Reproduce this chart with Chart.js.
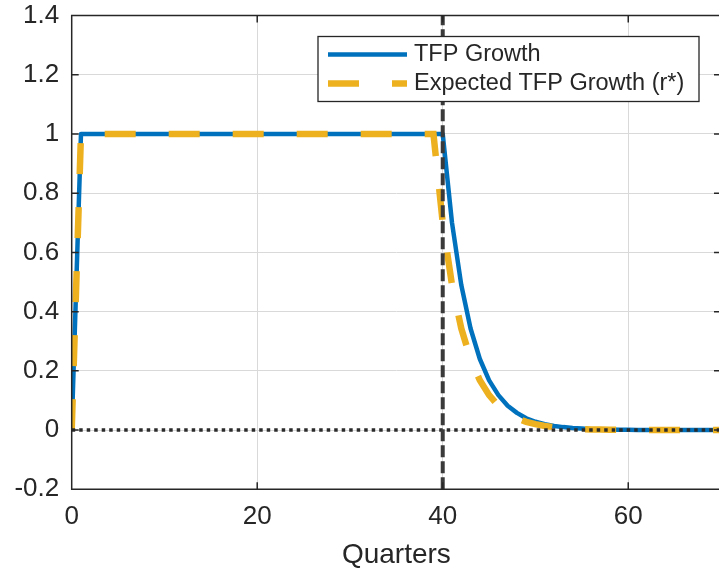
<!DOCTYPE html>
<html>
<head>
<meta charset="utf-8">
<script src="https://cdn.jsdelivr.net/npm/chart.js@4.4.1/dist/chart.umd.min.js"></script>
<style>
    html, body { margin: 0; padding: 0; background: #fff; overflow: hidden; }
    #wrap { width: 721px; height: 572px; }
</style>
</head>
<body>
<div id="wrap"><canvas id="tfpChart"></canvas></div>
<script>
// quarters on the x axis
const quarters = [
    0, 1, 2, 3, 4, 5, 6, 7, 8, 9, 10, 11, 12, 13, 14, 15, 16, 17, 18, 19,
    20, 21, 22, 23, 24, 25, 26, 27, 28, 29, 30, 31, 32, 33, 34, 35, 36, 37, 38, 39,
    40, 41, 42, 43, 44, 45, 46, 47, 48, 49, 50, 51, 52, 53, 54, 55, 56, 57, 58, 59,
    60, 61, 62, 63, 64, 65, 66, 67, 68, 69, 70
];

const tfpGrowth = [
    0, 1, 1, 1, 1, 1, 1, 1, 1, 1, 1, 1, 1, 1, 1, 1, 1, 1, 1, 1,
    1, 1, 1, 1, 1, 1, 1, 1, 1, 1, 1, 1, 1, 1, 1, 1, 1, 1, 1, 1,
    1, 0.70, 0.49, 0.343, 0.24, 0.168, 0.118, 0.082, 0.058, 0.04, 0.028, 0.02, 0.014, 0.01, 0.007, 0.005, 0.003, 0.002, 0.002, 0.001,
    0.001, 0, 0, 0, 0, 0, 0, 0, 0, 0, 0
];

const expectedTfp = [
    0, 1, 1, 1, 1, 1, 1, 1, 1, 1, 1, 1, 1, 1, 1, 1, 1, 1, 1, 1,
    1, 1, 1, 1, 1, 1, 1, 1, 1, 1, 1, 1, 1, 1, 1, 1, 1, 1, 1, 1,
    0.70, 0.49, 0.343, 0.24, 0.168, 0.118, 0.082, 0.058, 0.04, 0.028, 0.02, 0.014, 0.01, 0.007, 0.005, 0.003, 0.002, 0.002, 0.001, 0.001,
    0, 0, 0, 0, 0, 0, 0, 0, 0, 0, 0
];

const xTicks = [0, 20, 40, 60];
const yTicks = [-0.2, 0, 0.2, 0.4, 0.6, 0.8, 1, 1.2, 1.4];
const shockQuarter = 40;
const seriesNames = ["TFP Growth", "Expected TFP Growth (r*)"];

const blue = "#0072BD";
const yellow = "#EDB120";
const axisColor = "#262626";
const fontFamily = "'Liberation Sans', Arial, Helvetica, sans-serif";

function toPoints(ys) {
    return quarters.map(function (q, i) { return { x: q, y: ys[i] }; });
}

// box with inward ticks, like matlab "box on"
const boxPlugin = {
    id: "boxPlugin",
    afterDatasetsDraw: function (chart) {
        const ctx = chart.ctx;
        const a = chart.chartArea;
        const xs = chart.scales.x;
        const ys = chart.scales.y;
        ctx.save();
        ctx.strokeStyle = axisColor;
        ctx.lineWidth = 1.5;
        ctx.beginPath();
        ctx.rect(a.left, a.top, a.right - a.left, a.bottom - a.top);
        xTicks.forEach(function (v) {
            const px = xs.getPixelForValue(v);
            ctx.moveTo(px, a.bottom); ctx.lineTo(px, a.bottom - 7);
            ctx.moveTo(px, a.top); ctx.lineTo(px, a.top + 7);
        });
        yTicks.forEach(function (v) {
            const py = ys.getPixelForValue(v);
            ctx.moveTo(a.left, py); ctx.lineTo(a.left + 7, py);
            ctx.moveTo(a.right, py); ctx.lineTo(a.right - 7, py);
        });
        ctx.stroke();

        // legend box
        const w = 381, h = 65;
        const bx = a.right - 22 - w;
        const by = a.top + 21;
        ctx.fillStyle = "#fff";
        ctx.fillRect(bx, by, w, h);
        ctx.lineWidth = 1.3;
        ctx.strokeStyle = axisColor;
        ctx.strokeRect(bx, by, w, h);

        const rows = [by + 18, by + 47];
        ctx.font = "23.5px " + fontFamily;
        ctx.textBaseline = "middle";
        ctx.textAlign = "left";
        chart.data.datasets.slice(0, 2).forEach(function (ds, i) {
            ctx.beginPath();
            ctx.strokeStyle = ds.borderColor;
            ctx.lineWidth = ds.borderWidth;
            ctx.setLineDash(ds.borderDash || []);
            ctx.moveTo(bx + 10, rows[i]);
            ctx.lineTo(bx + 89, rows[i]);
            ctx.stroke();
            ctx.setLineDash([]);
            ctx.fillStyle = axisColor;
            ctx.fillText(seriesNames[i], bx + 96, rows[i]);
        });
        ctx.restore();
    }
};

const canvas = document.getElementById("tfpChart");
new Chart(canvas.getContext("2d"), {
    type: "line",
    data: {
        datasets: [
            {
                label: seriesNames[0],
                data: toPoints(tfpGrowth),
                borderColor: blue,
                borderWidth: 4.5,
                borderJoinStyle: "round",
                pointRadius: 0,
                tension: 0,
                order: 3,
            },
            {
                label: seriesNames[1],
                data: toPoints(expectedTfp),
                borderColor: yellow,
                borderWidth: 6.5,
                borderDash: [31, 33],
                pointRadius: 0,
                tension: 0,
                order: 2,
            },
            {
                label: "zero",
                data: [{ x: 0, y: 0 }, { x: 70, y: 0 }],
                borderColor: "#2b2b2b",
                borderWidth: 3.5,
                borderDash: [3.5, 4],
                pointRadius: 0,
                order: 1,
            },
            {
                label: "shock",
                data: [{ x: shockQuarter, y: -0.2 }, { x: shockQuarter, y: 1.4 }],
                borderColor: "#3a3a3a",
                borderWidth: 4,
                borderDash: [12, 4],
                pointRadius: 0,
                order: 0,
            },
        ],
    },
    options: {
        responsive: true,
        maintainAspectRatio: false,
        animation: false,
        layout: {
            padding: { top: 15.5, left: 0, right: 0, bottom: 0 },
        },
        plugins: {
            legend: { display: false },
            tooltip: { enabled: false },
        },
        scales: {
            x: {
                type: "linear",
                min: 0,
                max: 70,
                afterBuildTicks: function (s) { s.ticks = xTicks.map(function (v) { return { value: v }; }); },
                afterFit: function (s) {
                    s.height = 82.7;
                    s.paddingLeft = 0; s.paddingRight = 0;
                },
                grid: { color: "#d9d9d9", lineWidth: 1, drawTicks: false },
                border: { display: false },
                ticks: {
                    color: axisColor,
                    padding: 12,
                    maxRotation: 0,
                    font: { family: fontFamily, size: 26 },
                    callback: function (v) { return String(v); },
                },
                title: {
                    display: true,
                    text: "Quarters",
                    color: axisColor,
                    padding: 0,
                    font: { family: fontFamily, size: 28 },
                },
            },
            y: {
                min: -0.2,
                max: 1.4,
                afterBuildTicks: function (s) { s.ticks = yTicks.map(function (v) { return { value: v }; }); },
                afterFit: function (s) {
                    s.width = 71.7;
                    s.paddingTop = 0; s.paddingBottom = 0;
                },
                grid: { color: "#d9d9d9", lineWidth: 1, drawTicks: false },
                border: { display: false },
                ticks: {
                    color: axisColor,
                    padding: 12.5,
                    font: { family: fontFamily, size: 26 },
                    callback: function (v) { return String(+Number(v).toFixed(1)); },
                },
            },
        },
    },
    plugins: [boxPlugin],
});
</script>
</body>
</html>
